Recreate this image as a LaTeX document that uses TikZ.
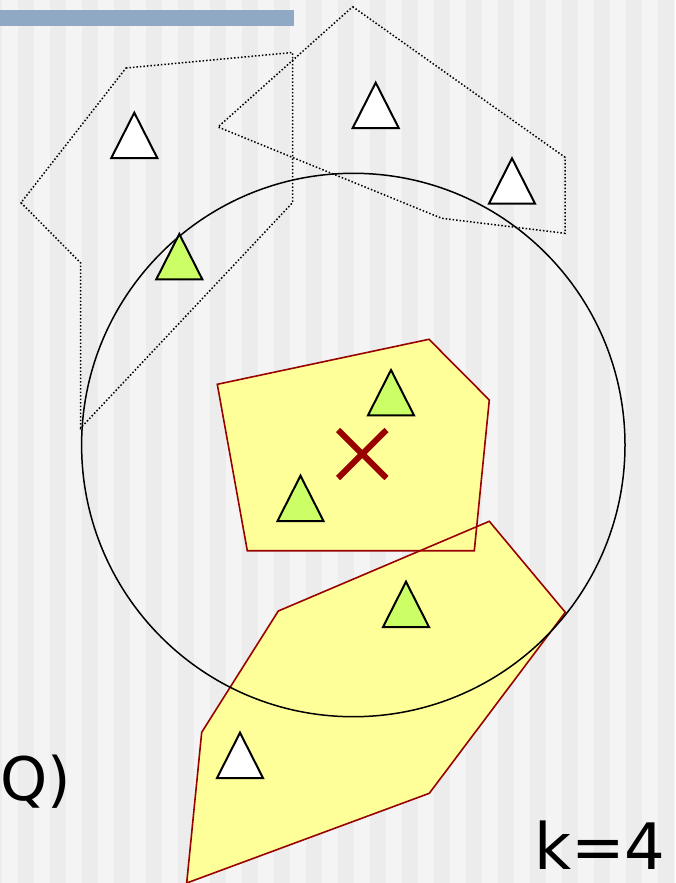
\documentclass[tikz,border=0pt]{standalone}
\usepackage{fontspec}
\setmainfont{DejaVu Sans}
\definecolor{bglight}{HTML}{F4F4F4}
\definecolor{bgdark}{HTML}{ECECEC}
\definecolor{barblue}{HTML}{8FA9C4}
\definecolor{regfill}{HTML}{FFFF99}
\definecolor{regline}{HTML}{990000}
\definecolor{ptgreen}{HTML}{CCFF66}
\tikzset{
  region/.style={draw=regline, line width=1.6pt, line join=miter},
  dotpoly/.style={draw=black, line width=1.5pt, dash pattern=on 1.5pt off 2pt},
  pt/.style={draw=black, line width=2pt, line join=miter},
  label/.style={inner sep=0pt, outer sep=0pt, font=\fontsize{64}{70}\selectfont},
}
\begin{document}
\begin{tikzpicture}[x=1pt, y=-1pt]
\useasboundingbox (0,0) rectangle (675,883);
% background stripes
\fill[bglight] (0,0) rectangle (675,883);
\foreach \i in {-1,...,21} \fill[bgdark] ({18+32*\i},0) rectangle ({34+32*\i},883);
% blue bar
\fill[barblue] (0,10) rectangle (294,26);
% yellow regions: fills, then outlines
\fill[regfill] (217.3,384.3) -- (429,339.3) -- (489.3,400) -- (474.3,550.7) -- (247.3,550.7) -- cycle;
\fill[regfill] (278.3,611) -- (489.3,521.3) -- (565.3,612.3) -- (429.3,793.3) -- (186.7,883) -- (201.7,732.3) -- cycle;
\draw[region] (217.3,384.3) -- (429,339.3) -- (489.3,400) -- (474.3,550.7) -- (247.3,550.7) -- cycle;
\draw[region] (278.3,611) -- (489.3,521.3) -- (565.3,612.3) -- (429.3,793.3) -- (186.7,883) -- (201.7,732.3) -- cycle;
% dotted polygons
\draw[dotpoly] (126,68) -- (292.5,52.5) -- (292.5,202.7) -- (80.7,428) -- (80.7,263) -- (21,202.7) -- cycle;
\draw[dotpoly] (352.7,6.7) -- (565,157.3) -- (565,233.3) -- (441.7,218.3) -- (218,127) -- cycle;
% circle
\draw[black, line width=1.5pt] (353.3,445) circle[radius=271.7];
% query point
\draw[regline, line width=6pt] (338,430) -- (386.5,478) (338,478) -- (386.5,430);
% points
\foreach \x/\y in {134.3/112.7, 375.7/82.7, 512/158.3, 240/732.7}
  \draw[pt, fill=white] (\x,\y) -- (\x+23,\y+45.3) -- (\x-23,\y+45.3) -- cycle;
\foreach \x/\y in {179.3/234, 391/370, 300.5/475.7, 406/581.7}
  \draw[pt, fill=ptgreen] (\x,\y) -- (\x+23,\y+45.3) -- (\x-23,\y+45.3) -- cycle;
% labels
\node[label, anchor=base east, font=\fontsize{60}{66}\selectfont] (q) at (71,800) {(Q)};
\node[label, anchor=base west] (k) at (534,869) {k=4};
\end{tikzpicture}
\end{document}
